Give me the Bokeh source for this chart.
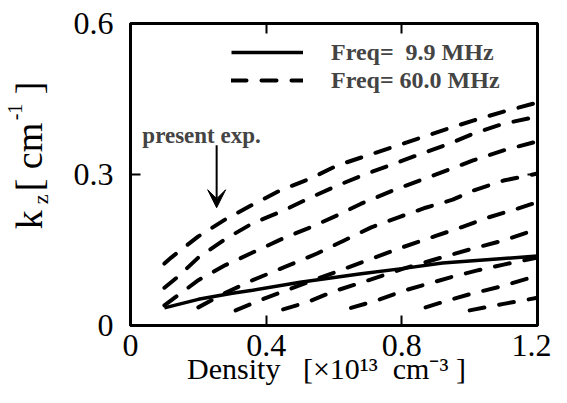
from bokeh.plotting import figure
from bokeh.models import (Range1d, LinearAxis, Arrow, VeeHead, Legend,
                          LegendItem, FixedTicker, Label)
from bokeh.embed import file_html
from bokeh.resources import INLINE

# ---------------- data ----------------
# density in 1e13 cm^-3, kz in cm^-1
dens_9p9 = [0.1, 0.2, 0.3, 0.36, 0.5, 0.68, 0.8, 0.92, 1.0, 1.1, 1.2]
kz_9p9 = [0.035, 0.052, 0.064, 0.070, 0.086, 0.103, 0.113, 0.124, 0.128, 0.133, 0.138]

dens_60_a = [0.1, 0.12, 0.2, 0.28, 0.36, 0.44, 0.53, 0.61, 0.69, 0.78, 0.86, 0.94, 1.01, 1.1, 1.2]
kz_60_a = [0.123, 0.135, 0.177, 0.211, 0.240, 0.268, 0.292, 0.318, 0.336, 0.356, 0.374, 0.392, 0.407, 0.425, 0.443]

dens_60_b = [0.1, 0.14, 0.2, 0.28, 0.36, 0.45, 0.53, 0.61, 0.69, 0.78, 0.86, 0.94, 1.01, 1.1, 1.2]
kz_60_b = [0.075, 0.097, 0.135, 0.172, 0.203, 0.228, 0.254, 0.278, 0.300, 0.322, 0.342, 0.361, 0.381, 0.401, 0.415]

dens_60_c = [0.1, 0.2, 0.28, 0.36, 0.45, 0.53, 0.61, 0.68, 0.78, 0.86, 0.94, 1.01, 1.1, 1.2]
kz_60_c = [0.040, 0.090, 0.120, 0.145, 0.173, 0.195, 0.219, 0.242, 0.270, 0.290, 0.310, 0.328, 0.348, 0.366]

dens_60_d = [0.2, 0.28, 0.36, 0.45, 0.55, 0.63, 0.71, 0.79, 0.87, 0.95, 1.01, 1.1, 1.2]
kz_60_d = [0.036, 0.065, 0.090, 0.115, 0.143, 0.169, 0.195, 0.215, 0.234, 0.250, 0.268, 0.288, 0.302]

dens_60_e = [0.31, 0.4, 0.5, 0.6, 0.7, 0.8, 0.9, 0.975, 1.057, 1.14, 1.2]
kz_60_e = [0.030, 0.055, 0.080, 0.105, 0.130, 0.155, 0.178, 0.195, 0.215, 0.232, 0.245]

dens_60_f = [0.45, 0.52, 0.6, 0.675, 0.8, 0.937, 1.01, 1.1, 1.17, 1.2]
kz_60_f = [0.032, 0.046, 0.068, 0.084, 0.112, 0.139, 0.153, 0.169, 0.185, 0.190]

dens_60_g = [0.65, 0.727, 0.81, 0.888, 0.95, 1.02, 1.1, 1.2]
kz_60_g = [0.035, 0.050, 0.070, 0.085, 0.097, 0.109, 0.121, 0.135]

dens_60_h = [0.87, 0.937, 1.01, 1.09, 1.17, 1.2]
kz_60_h = [0.036, 0.050, 0.064, 0.077, 0.093, 0.096]

dens_60_i = [1.0, 1.1, 1.2]
kz_60_i = [0.030, 0.043, 0.055]

x_ticks = [0, 0.4, 0.8, 1.2]
y_ticks = [0, 0.3, 0.6]
legend_labels = ["Freq=\u00a0 9.9 MHz", "Freq= 60.0 MHz"]

NB = "\u00a0"
SERIF = "Liberation Serif"

p = figure(width=551, height=387, output_backend="svg", toolbar_location=None,
           x_range=Range1d(0, 1.2), y_range=Range1d(0, 0.6),
           min_border_left=126, min_border_right=14, min_border_top=23,
           min_border_bottom=62)
p.grid.visible = False
p.outline_line_color = "black"
p.outline_line_width = 3
p.background_fill_color = "white"
p.border_fill_color = "white"


def tick_axis(ax, ticks):
    ax.ticker = FixedTicker(ticks=ticks)
    ax.axis_line_color = None
    ax.major_tick_in = 10
    ax.major_tick_out = 0
    ax.major_tick_line_width = 2
    ax.minor_tick_line_color = None
    ax.major_label_text_font = SERIF
    ax.major_label_text_color = "black"
    ax.major_label_text_font_size = "32px"


xa = p.xaxis[0]
tick_axis(xa, x_ticks)
xa.major_label_overrides = {0: "0", 0.4: "0.4", 0.8: "0.8", 1.2: "1.2"}
xa.major_label_standoff = 9
xa.axis_label = ("Density" + NB * 3 + "[\u00d710\u00b9\u00b3" + NB * 2 + "cm\u207b\u00b3"
                 + NB + "]" + NB * 2)
xa.axis_label_text_font = SERIF
xa.axis_label_text_font_style = "normal"
xa.axis_label_text_color = "black"
xa.axis_label_text_font_size = "30px"
xa.axis_label_standoff = -7

ya = p.yaxis[0]
tick_axis(ya, y_ticks)
ya.major_label_overrides = {0: "0", 0.3: "0.3", 0.6: "0.6"}
ya.major_label_standoff = 17

# ticks without labels on the top and right sides
top = LinearAxis()
tick_axis(top, x_ticks)
top.major_label_overrides = {t: "" for t in x_ticks}
top.major_label_text_color = None
top.major_label_standoff = 0
p.add_layout(top, "above")
right = LinearAxis()
tick_axis(right, y_ticks)
right.major_label_overrides = {t: "" for t in y_ticks}
right.major_label_text_color = None
right.major_label_standoff = 0
p.add_layout(right, "right")


# y-axis title built from stacked label-only axes: "k", subscript "z", superscript "-1"
def label_axis(text, size, standoff):
    ax = LinearAxis(ticker=FixedTicker(ticks=[]), axis_label=text)
    ax.axis_line_color = None
    ax.major_tick_in = 0
    ax.major_tick_out = 0
    ax.major_tick_line_color = None
    ax.minor_tick_line_color = None
    ax.major_label_standoff = 0
    ax.axis_label_text_font = SERIF
    ax.axis_label_text_font_style = "normal"
    ax.axis_label_text_color = "black"
    ax.axis_label_text_font_size = size
    ax.axis_label_standoff = standoff
    p.add_layout(ax, "left")


label_axis("z" + NB * 9, "22px", 18)
label_axis(NB * 4 + "k" + NB * 2 + "[ cm" + NB * 3 + "]", "38px", -25)
label_axis(NB * 25 + "-1", "20px", -21)

dash = "15 15"
solid_r = p.line(dens_9p9, kz_9p9, line_color="black", line_width=3.5)
dashed = []
for xs, ys in [(dens_60_a, kz_60_a), (dens_60_b, kz_60_b), (dens_60_c, kz_60_c),
               (dens_60_d, kz_60_d), (dens_60_e, kz_60_e), (dens_60_f, kz_60_f),
               (dens_60_g, kz_60_g), (dens_60_h, kz_60_h), (dens_60_i, kz_60_i)]:
    r = p.line(xs, ys, line_color="black", line_width=4, line_dash=dash,
               line_cap="round")
    dashed.append(r)

legend = Legend(items=[LegendItem(label=legend_labels[0], renderers=[solid_r]),
                       LegendItem(label=legend_labels[1], renderers=[dashed[0]])],
                location=(101, 231), glyph_width=72, glyph_height=28,
                label_height=28, label_standoff=28, padding=0, margin=0, spacing=0,
                label_text_font=SERIF, label_text_font_style="bold",
                label_text_font_size="24px", border_line_color=None,
                background_fill_alpha=0)
p.add_layout(legend)

# annotation
p.add_layout(Label(x=0.035, y=0.377, text="present exp.", text_font=SERIF,
                   text_font_size="23px", text_font_style="bold",
                   text_baseline="alphabetic"))
p.add_layout(Arrow(end=VeeHead(size=18, fill_color="black", line_color="black"),
                   x_start=0.254, y_start=0.358, x_end=0.254, y_end=0.234,
                   line_width=2, line_color="black"))

open("out.html", "w").write(file_html(p, INLINE))
